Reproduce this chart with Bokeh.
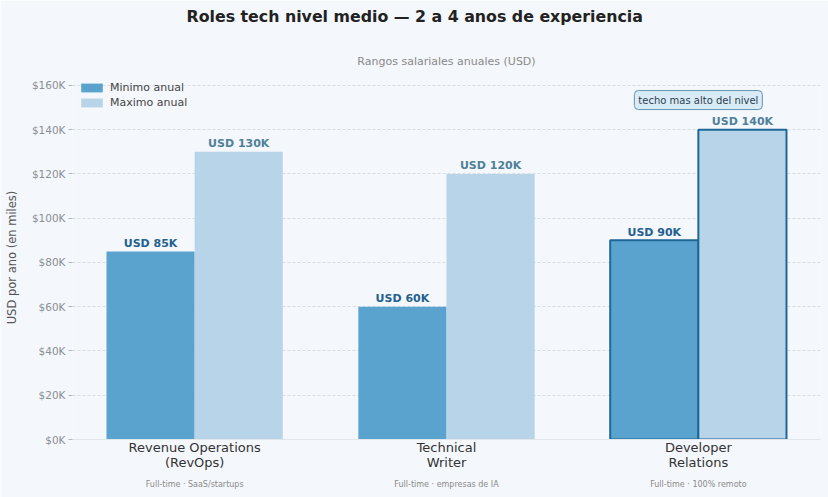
from bokeh.plotting import figure
from bokeh.models import (ColumnDataSource, Label, FixedTicker, PrintfTickFormatter, Range1d,
                          Title, LinearAxis)
from bokeh.transform import dodge
from bokeh.core.properties import value
from bokeh.embed import file_html
from bokeh.resources import INLINE

# ---- data ----
roles = ["Revenue Operations\n(RevOps)", "Technical\nWriter", "Developer\nRelations"]
notes = ["Full-time \u00b7 SaaS/startups", "Full-time \u00b7 empresas de IA", "Full-time \u00b7 100% remoto"]
min_k = [85, 60, 90]
max_k = [130, 120, 140]
y_ticks = [0, 20, 40, 60, 80, 100, 120, 140, 160]
highlight = 2
title_text = "Roles tech nivel medio \u2014 2 a 4 anos de experiencia"
subtitle_text = "Rangos salariales anuales (USD)"
ylabel_text = "USD por ano (en miles)"
annot_text = "techo mas alto del nivel"

FONT = "DejaVu Sans"
BG = "#f4f7fb"
C_MIN = "#5ba3cf"
C_MAX = "#b7d4e8"
C_EDGE = "#1f6796"

idx = list(range(len(roles)))
src = ColumnDataSource(dict(
    x=idx, mn=min_k, mx=max_k,
    mn_lbl=[f"USD {v}K" for v in min_k],
    mx_lbl=[f"USD {v}K" for v in max_k],
    edge_alpha=[1.0 if i == highlight else 0.0 for i in idx],
))

p = figure(width=828, height=497, output_backend="svg", toolbar_location=None,
           x_range=Range1d(-0.485, 2.485), y_range=Range1d(0, 164.5),
           min_border_left=72, min_border_right=8, min_border_top=75, min_border_bottom=58)
p.background_fill_color = BG
p.border_fill_color = BG
p.outline_line_color = None

bw = 0.35
p.vbar(x=dodge("x", -bw / 2), top="mn", width=bw, source=src, fill_color=C_MIN,
       line_color=C_EDGE, line_alpha="edge_alpha", line_width=2, legend_label="Minimo anual")
p.vbar(x=dodge("x", bw / 2), top="mx", width=bw, source=src, fill_color=C_MAX,
       line_color=C_EDGE, line_alpha="edge_alpha", line_width=2, legend_label="Maximo anual")

p.text(x=dodge("x", -bw / 2), y="mn", text="mn_lbl", source=src, text_align="center",
       text_baseline="alphabetic", y_offset=-8, text_font=value(FONT), text_font_style="bold",
       text_font_size="11px", text_color="#23618e")
p.text(x=dodge("x", bw / 2), y="mx", text="mx_lbl", source=src, text_align="center",
       text_baseline="alphabetic", y_offset=-8, text_font=value(FONT), text_font_style="bold",
       text_font_size="11px", text_color="#4e8199")

# axes
p.xaxis.ticker = FixedTicker(ticks=idx)
p.xaxis.major_label_overrides = {i: r for i, r in zip(idx, roles)}
p.xaxis.major_tick_line_color = None
p.xaxis.minor_tick_line_color = None
p.xaxis.axis_line_color = "#e1e6ec"
p.xaxis.major_label_text_font = FONT
p.xaxis.major_label_text_font_size = "13px"
p.xaxis.major_label_text_color = "#333333"
p.xaxis.major_label_text_line_height = 1.0
p.xaxis.major_label_standoff = -6

note_axis = LinearAxis(ticker=FixedTicker(ticks=idx),
                       major_label_overrides={i: n for i, n in zip(idx, notes)},
                       axis_line_color=None, major_tick_line_color=None, minor_tick_line_color=None,
                       major_label_text_font=FONT, major_label_text_font_size="8px",
                       major_label_text_color="#8a8a8a", major_label_standoff=1)
p.add_layout(note_axis, "below")

p.yaxis.ticker = FixedTicker(ticks=y_ticks)
p.yaxis.formatter = PrintfTickFormatter(format="$%dK")
p.yaxis.axis_line_color = None
p.yaxis.minor_tick_line_color = None
p.yaxis.major_tick_line_color = "#b0b6bd"
p.yaxis.major_tick_out = 4
p.yaxis.major_tick_in = 0
p.yaxis.major_label_standoff = 3
p.yaxis.major_label_text_font = FONT
p.yaxis.major_label_text_font_size = "10.5px"
p.yaxis.major_label_text_color = "#8a8f96"
p.yaxis.axis_label = ylabel_text
p.yaxis.axis_label_text_font = FONT
p.yaxis.axis_label_text_font_size = "11.5px"
p.yaxis.axis_label_text_font_style = "normal"
p.yaxis.axis_label_text_color = "#555555"
p.yaxis.axis_label_standoff = 10

p.xgrid.grid_line_color = None
p.ygrid.grid_line_color = "#cfd5dd"
p.ygrid.grid_line_dash = "3 2"
p.ygrid.grid_line_width = 0.8

# legend
lg = p.legend[0]
lg.location = "top_left"
lg.background_fill_alpha = 0
lg.border_line_alpha = 0
lg.margin = 0
lg.padding = 6
lg.glyph_width = 27
lg.glyph_height = 11
lg.label_height = 11
lg.spacing = 2
lg.label_standoff = 5
lg.label_text_font = FONT
lg.label_text_font_size = "11px"
lg.label_text_color = "#444444"

# titles (subtitle nearest the frame, main title outside it)
p.add_layout(Title(text=subtitle_text, align="center", text_font=FONT, text_font_size="11px",
                   text_font_style="normal", text_color="#8a8a8a", standoff=15), "above")
p.add_layout(Title(text=title_text + "\n ", align="left", text_font=FONT, text_font_size="15.8px",
                   text_font_style="bold", text_color="#222222", offset=114, standoff=2), "above")

# annotation
p.add_layout(Label(x=highlight, y=153.4, text=annot_text, text_align="center", text_baseline="middle",
                   text_font=FONT, text_font_size="10px", text_color="#2b3f50",
                   background_fill_color="#d9ebf7", border_line_color="#5f95b5", border_line_width=1,
                   padding=4, border_radius=4))

open("out.html", "w").write(file_html(p, INLINE))
